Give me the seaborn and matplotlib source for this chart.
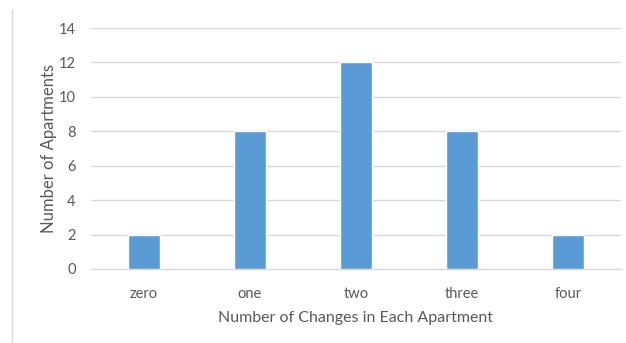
import matplotlib
matplotlib.use("Agg")
import matplotlib.pyplot as plt
import seaborn as sns
import pandas as pd
from matplotlib.lines import Line2D

categories = ["zero", "one", "two", "three", "four"]
counts = [2, 8, 12, 8, 2]
yticks = [0, 2, 4, 6, 8, 10, 12, 14]

sns.set_theme(style="white")
plt.rcParams['font.family'] = ['Lato', 'DejaVu Sans']

df = pd.DataFrame({"cat": categories, "val": counts})
fig = plt.figure(figsize=(6.26, 3.43), dpi=100)
ax = fig.add_axes([91/626, 1-269/343, 530/626, (269-28)/343])
sns.barplot(data=df, x="cat", y="val", color="#5B9BD5", width=0.31, saturation=1, ax=ax, zorder=3)
ax.set_ylim(0, 14)
ax.set_xlim(-0.5, 4.5)
ax.set_yticks(yticks)
ax.yaxis.grid(True, color="#D9D9D9", linewidth=1, zorder=0)
ax.set_axisbelow(True)
for s in ["top", "right", "left"]:
    ax.spines[s].set_visible(False)
ax.spines["bottom"].set_color("#D9D9D9")
ax.spines["bottom"].set_linewidth(1)
ax.tick_params(axis="both", length=0, labelsize=10.5, labelcolor="#595959")
ax.tick_params(axis="y", pad=11)
ax.tick_params(axis="x", pad=13)
ax.set_xlabel("Number of Changes in Each Apartment", fontsize=11.5, color="#595959", labelpad=7)
ax.set_ylabel("Number of Apartments", fontsize=12, color="#595959", labelpad=1)
fig.add_artist(Line2D([12/626, 12/626], [0, 1-10/343], transform=fig.transFigure, color="#D9D9D9", linewidth=1))
fig.savefig("out.png", dpi=100)
